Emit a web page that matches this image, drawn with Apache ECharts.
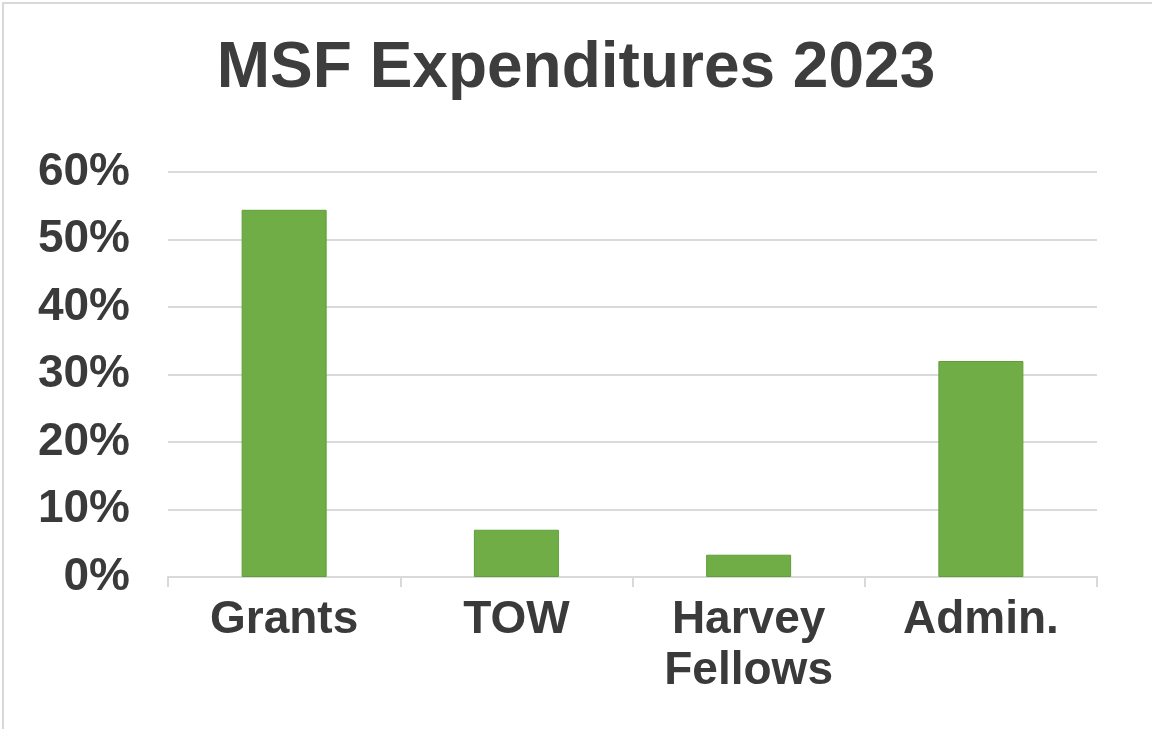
<!DOCTYPE html>
<html>
<head>
<meta charset="utf-8">
<script src="https://cdn.jsdelivr.net/npm/echarts@6/dist/echarts.min.js"></script>
<style>
  html, body { margin: 0; padding: 0; background: #fff; }
  #frame {
    position: absolute; left: 2px; top: 2px; right: 0; bottom: 0;
    border-left: 2px solid #d8d8d8;
    border-top: 2px solid #d8d8d8;
  }
  #chart { position: absolute; left: 0; top: 0; width: 1152px; height: 729px; }
</style>
</head>
<body>
<div id="frame"></div>
<div id="chart"></div>
<script>
const categories = ['Grants', 'TOW', 'Harvey\nFellows', 'Admin.']
const shares = [54.4, 7.0, 3.3, 32.0]
const yTicks = { min: 0, max: 60, step: 10 }

const chart = echarts.init(document.getElementById('chart'))
const labelFont = { fontFamily: 'Liberation Sans, Arial, sans-serif', fontWeight: 'bold', fontSize: 46, color: '#3a3a3a' }

chart.setOption({
  animation: false,
  title: {
    text: 'MSF Expenditures 2023',
    left: 'center',
    top: 32,
    textStyle: { fontFamily: 'Liberation Sans, Arial, sans-serif', fontWeight: 'bold', fontSize: 64, color: '#3d3d3d' },
  },
  grid: { left: 168, right: 55, top: 172, bottom: 152, containLabel: false, outerBoundsMode: 'none' },
  xAxis: {
    type: 'category',
    data: categories,
    axisLine: { lineStyle: { color: '#d9d9d9', width: 2 } },
    axisTick: { show: true, length: 10, lineStyle: { color: '#d9d9d9', width: 2 } },
    axisLabel: { ...labelFont, margin: 18, lineHeight: 51, interval: 0 },
  },
  yAxis: {
    type: 'value',
    min: yTicks.min,
    max: yTicks.max,
    interval: yTicks.step,
    axisLine: { show: false },
    axisTick: { show: false },
    splitLine: { lineStyle: { color: '#dadada', width: 2 } },
    axisLabel: { ...labelFont, margin: 38, formatter: '{value}%' },
  },
  series: [{
    type: 'bar',
    data: shares,
    barWidth: 85,
    itemStyle: { color: '#70ad47', borderColor: '#5e9f36', borderWidth: 1 },
  }],
})
</script>
</body>
</html>
